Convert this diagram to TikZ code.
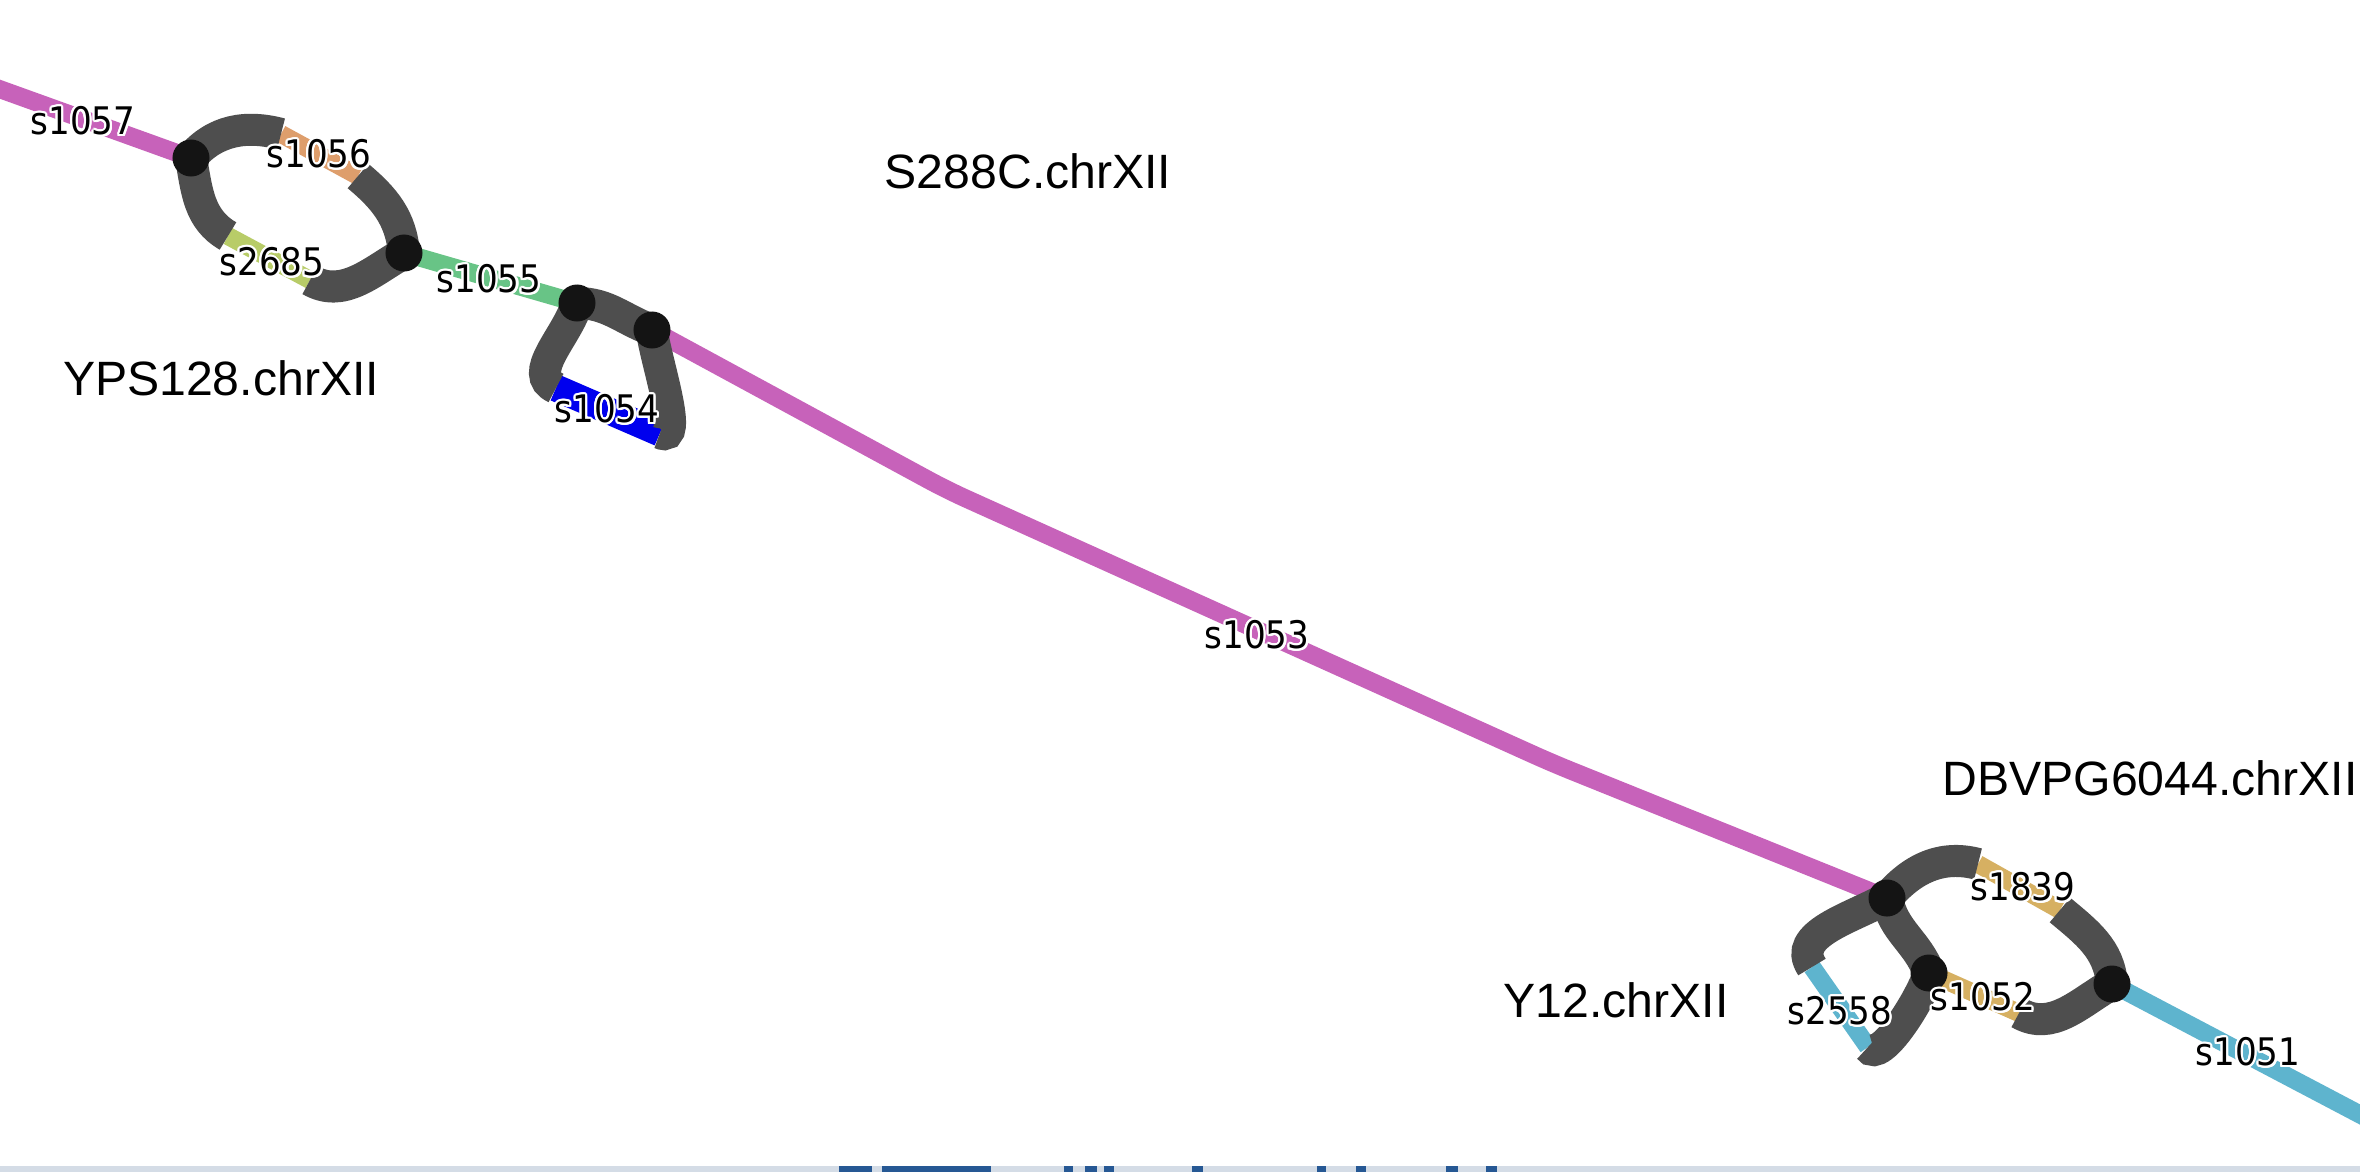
\documentclass[tikz,border=0pt]{standalone}
\usepackage{fontspec}
\setmainfont{Liberation Sans}
\newfontfamily\segfont[FakeStretch=0.9]{DejaVu Sans}
\usepackage[copies]{contour}
\contourlength{0.6pt}
\contournumber{20}
\definecolor{pathpink}{RGB}{199,98,186}
\definecolor{linkgray}{RGB}{78,78,78}
\definecolor{nodegreen}{RGB}{104,196,134}
\definecolor{nodeblue}{RGB}{0,0,238}
\definecolor{nodeorange}{RGB}{222,158,108}
\definecolor{nodeolive}{RGB}{184,204,104}
\definecolor{nodetan}{RGB}{214,176,98}
\definecolor{nodecyan}{RGB}{94,180,206}
\definecolor{bandgray}{RGB}{212,220,230}
\definecolor{bandblue}{RGB}{38,88,148}
\newcommand{\seg}[1]{\contour{white}{#1}}
\tikzset{
  segment/.style={line width=1.8mm, line join=round},
  link/.style={draw=linkgray, line width=3.2mm},
  junction/.style={fill=black!92},
  seglabel/.style={font=\segfont\fontsize{10.8pt}{12pt}\selectfont, inner sep=0pt},
  strain/.style={font=\fontsize{13.7pt}{16pt}\selectfont, inner sep=0pt}
}

\begin{document}
\begin{tikzpicture}[x=0.01cm, y=-0.01cm]
    \useasboundingbox (0,0) rectangle (2360,1172);
    \fill[white] (0,0) rectangle (2360,1172);
    \clip (0,0) rectangle (2360,1172);
    \coordinate (W) at (-20,82);
    \coordinate (J1) at (191,158);
    \coordinate (a1056) at (281,134);
    \coordinate (b1056) at (358,176);
    \coordinate (a2685) at (228,236);
    \coordinate (b2685) at (310,280);
    \coordinate (J2) at (404,253);
    \coordinate (J3) at (577,303);
    \coordinate (J4) at (652,330);
    \coordinate (a1054) at (556,388);
    \coordinate (b1054) at (660,433);
    \coordinate (k1) at (947,490);
    \coordinate (k2) at (1552,763);
    \coordinate (J5) at (1887,898);
    \coordinate (a1839) at (1978,864);
    \coordinate (b1839) at (2060,910);
    \coordinate (J7) at (1929,973);
    \coordinate (b1052) at (2019,1013);
    \coordinate (a2558) at (1812,967);
    \coordinate (b2558) at (1868,1047);
    \coordinate (J6) at (2112,984);
    \coordinate (E) at (2380,1125);
    % segments
    \draw[segment, pathpink] (W) -- (J1);
    \draw[segment, nodeorange] (a1056) -- (b1056);
    \draw[segment, nodeolive] (a2685) -- (b2685);
    \draw[segment, nodegreen] (J2) -- (J3);
    \draw[segment, nodeblue, line width=2.7mm] (a1054) -- (b1054);
    \draw[segment, pathpink, rounded corners=2mm] (J4) -- (k1) -- (k2) -- (J5);
    \draw[segment, nodetan] (a1839) -- (b1839);
    \draw[segment, nodetan] (J7) -- (b1052);
    \draw[segment, nodecyan] (a2558) -- (b2558);
    \draw[segment, nodecyan] (J6) -- (E);
    % links
    \draw[link] (J1) to[out=50,in=165] (a1056);
    \draw[link] (b1056) to[out=-40,in=95] (J2);
    \draw[link] (J1) to[out=-80,in=150] (a2685);
    \draw[link] (b2685) to[out=-30,in=-150] (J2);
    \draw[link] (J3) to[out=0,in=160] (J4);
    \draw[link] (J3) to[out=-105,in=155] (a1054);
    \draw[link] (b1054) to[out=-25,in=-85,looseness=0.7] (J4);
    \draw[link] (J5) to[out=50,in=165] (a1839);
    \draw[link] (b1839) to[out=-40,in=95] (J6);
    \draw[link] (J5) to[out=-80,in=110] (J7);
    \draw[link] (b1052) to[out=-30,in=-150] (J6);
    \draw[link] (J5) to[out=210,in=124] (a2558);
    \draw[link] (b2558) to[out=-56,in=-105,looseness=0.6] (J7);
    \foreach \j in {J1,J2,J3,J4,J5,J6,J7}
      \fill[junction] (\j) circle[radius=1.85mm];
    % segment names
    \node[seglabel] (l1057) at (83,122) {\seg{s1057}};
    \node[seglabel] (l1056) at (319,155) {\seg{s1056}};
    \node[seglabel] (l2685) at (272,263) {\seg{s2685}};
    \node[seglabel] (l1055) at (489,280) {\seg{s1055}};
    \node[seglabel] (l1054) at (607,410) {\seg{s1054}};
    \node[seglabel] (l1053) at (1257,636) {\seg{s1053}};
    \node[seglabel] (l1839) at (2023,888) {\seg{s1839}};
    \node[seglabel] (l1052) at (1983,998) {\seg{s1052}};
    \node[seglabel] (l2558) at (1840,1012) {\seg{s2558}};
    \node[seglabel] (l1051) at (2248,1053) {\seg{s1051}};
    % strain names
    \node[strain] (S288C) at (1028,171) {S288C.chrXII};
    \node[strain] (YPS128) at (221,378) {YPS128.chrXII};
    \node[strain] (DBVPG6044) at (2150,778) {DBVPG6044.chrXII};
    \node[strain] (Y12) at (1616,1000) {Y12.chrXII};
    % cut-off strip at the bottom
    \fill[bandgray] (0,1166) rectangle (2360,1172);
    \foreach \a/\b in {839/872,882/991,1064/1073,1085/1097,1104/1114,1192/1203,1317/1326,1356/1366,1446/1458,1486/1497}
      \fill[bandblue] (\a,1166) rectangle (\b,1172);
\end{tikzpicture}
\end{document}
